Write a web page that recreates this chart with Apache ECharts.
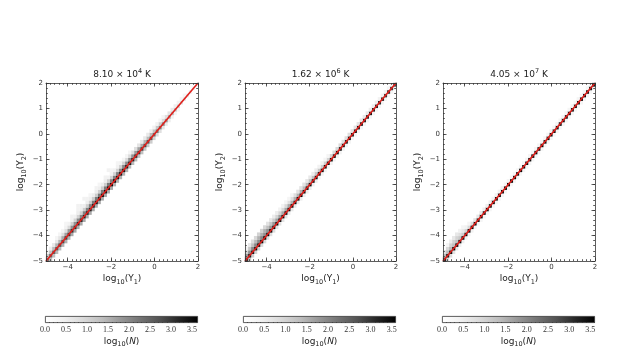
<!DOCTYPE html>
<html><head><meta charset="utf-8">
<script src="https://cdn.jsdelivr.net/npm/echarts@6/dist/echarts.min.js"></script>
<style>html,body{margin:0;padding:0;background:#fff}#c{width:641px;height:359px}</style>
</head><body><div id="c"></div>
<script>
// ---- data ----
const panelTitles = ['8.10 \u00d7 10{sup|4} K', '1.62 \u00d7 10{sup|6} K', '4.05 \u00d7 10{sup|7} K'];
const axisMin = -5, axisMax = 2;
const xMajorTicks = [-4, -2, 0, 2];
const cbMax = [3.64, 3.60, 3.61];
const lineX = [-5, 2];
const lineY = [-5, 2];
// hexbin column centres (log10 Y1)
const xCenters = [-4.93,-4.79,-4.65,-4.51,-4.37,-4.23,-4.09,-3.95,-3.81,-3.67,
  -3.53,-3.39,-3.25,-3.11,-2.97,-2.83,-2.69,-2.55,-2.41,-2.27,
  -2.13,-1.99,-1.85,-1.71,-1.57,-1.43,-1.29,-1.15,-1.01,-0.87,
  -0.73,-0.59,-0.45,-0.31,-0.17,-0.03,0.11,0.25,0.39,0.53,
  0.67,0.81,0.95,1.09,1.23,1.37,1.51,1.65,1.79,1.93];
const rowStep = 0.14; // vertical size of one bin row
// log10(N) per row, row offset (in bins) from the diagonal
const p1Offsets = [-1, 0, 1, 2, 3, 4, 5];
const p1Rows = [
  [1.2,1.3,1.3,1.4,1.4, 1.5,1.5,1.5,1.6,1.6, 1.6,1.6,1.6,1.6,1.6, 1.6,1.6,1.6,1.6,1.6, 1.6,1.6,1.5,1.5,1.5, 1.5,1.5,1.4,1.4,1.4, 1.3,1.3,1.2,1.2,1.1, 1.0,0.9,0.8,0.7,0.6, 0.5,0.4,0.3,0.3,0, 0,0,0,0,0],
  [2.2,2.4,2.5,2.6,2.7, 2.8,2.9,3.0,3.1,3.1, 3.2,3.2,3.3,3.3,3.3, 3.4,3.4,3.4,3.5,3.5, 3.5,3.5,3.5,3.4,3.4, 3.4,3.3,3.3,3.2,3.1, 3.0,2.9,2.8,2.7,2.6, 2.4,2.3,2.1,2.0,1.8, 1.6,1.4,1.2,1.0,0.8, 0.6,0.5,0.4,0.3,0.3],
  [1.2,1.3,1.4,1.5,1.5, 1.6,1.7,1.8,1.9,1.9, 2.0,2.0,2.1,2.1,2.1, 2.2,2.2,2.2,2.2,2.2, 2.2,2.1,2.1,2.1,2.0, 2.0,2.0,1.9,1.9,1.8, 1.7,1.6,1.5,1.4,1.4, 1.3,1.2,1.1,0.9,0.8, 0.7,0.6,0.5,0.4,0.3, 0.3,0,0,0,0],
  [0.4,0.5,0.6,0.6,0.7, 0.8,0.8,0.9,1.0,1.0, 1.0,1.0,1.1,1.1,1.1, 1.1,1.1,1.1,1.1,1.1, 1.1,1.0,1.0,1.0,1.0, 1.0,0.9,0.9,0.8,0.8, 0.7,0.6,0.6,0.6,0.5, 0.4,0.4,0.3,0.3,0, 0,0,0,0,0, 0,0,0,0,0],
  [0,0,0,0.3,0.3, 0.3,0.4,0.4,0.4,0.4, 0.5,0.5,0.5,0.5,0.5, 0.5,0.5,0.5,0.5,0.5, 0.4,0.4,0.4,0.4,0.4, 0.3,0.3,0.3,0,0, 0,0,0,0,0, 0,0,0,0,0, 0,0,0,0,0, 0,0,0,0,0],
  [0,0,0,0,0, 0,0.3,0,0.4,0, 0.4,0.5,0,0.4,0.3, 0,0.4,0.3,0,0.4, 0,0.3,0,0.3,0, 0,0,0,0,0, 0,0,0,0,0, 0,0,0,0,0, 0,0,0,0,0, 0,0,0,0,0],
  [0,0,0,0,0, 0,0,0,0,0, 0.4,0,0.4,0,0, 0,0,0,0,0, 0.4,0,0,0,0, 0,0,0,0,0, 0,0,0,0,0, 0,0,0,0,0, 0,0,0,0,0, 0,0,0,0,0]
];
const p2Offsets = [-1, 0, 1, 2, 3];
const p2Rows = [
  [1.2,1.2,1.1,1.0,1.0, 0.9,0.9,0.8,0.8,0.8, 0.7,0.7,0.7,0.7,0.6, 0.6,0.6,0.6,0.5,0.5, 0.5,0.5,0.5,0.5,0.4, 0.4,0.4,0.4,0.4,0.4, 0.4,0.4,0.4,0.4,0.4, 0.3,0.3,0.3,0.3,0.3, 0.3,0.3,0.3,0.3,0.3, 0.3,0.3,0.3,0.3,0.3],
  [3.0,3.2,3.3,3.4,3.4, 3.5,3.5,3.5,3.5,3.5, 3.5,3.5,3.5,3.5,3.5, 3.5,3.5,3.5,3.5,3.5, 3.5,3.5,3.5,3.5,3.5, 3.5,3.5,3.5,3.5,3.5, 3.5,3.5,3.4,3.4,3.4, 3.4,3.4,3.4,3.3,3.3, 3.3,3.3,3.2,3.2,3.1, 3.1,3.0,3.0,2.9,2.8],
  [1.8,1.9,2.0,2.0,2.0, 2.0,1.9,1.9,1.8,1.8, 1.7,1.7,1.6,1.6,1.6, 1.5,1.5,1.5,1.5,1.4, 1.4,1.3,1.3,1.2,1.2, 1.1,1.1,1.0,1.0,0.9, 0.9,0.9,0.8,0.8,0.8, 0.7,0.7,0.7,0.6,0.6, 0.6,0.5,0.5,0.5,0.4, 0.4,0.4,0.3,0.3,0.3],
  [1.0,1.2,1.3,1.4,1.5, 1.5,1.5,1.3,1.2,1.1, 1.0,1.0,0.9,0.9,0.8, 0.8,0.8,0.7,0.7,0.7, 0.6,0.6,0.5,0.5,0.4, 0.4,0.3,0.3,0,0, 0,0,0,0,0, 0,0,0,0,0, 0,0,0,0,0, 0,0,0,0,0],
  [0.4,0.6,0.8,0.9,1.0, 1.0,0.9,0.7,0.6,0.5, 0.5,0.4,0.4,0.3,0.3, 0.3,0,0,0,0, 0,0,0,0,0, 0,0,0,0,0, 0,0,0,0,0, 0,0,0,0,0, 0,0,0,0,0, 0,0,0,0,0]
];
const p3Offsets = [-1, 0, 1, 2, 3];
const p3Rows = [
  [1.0,0.9,0.8,0.7,0.6, 0.5,0.5,0.4,0.4,0.4, 0.3,0.3,0.3,0.3,0.3, 0.3,0.3,0.3,0.3,0.3, 0.3,0.3,0.3,0.3,0.3, 0.3,0.3,0.3,0.3,0.3, 0.3,0.3,0.3,0.3,0.3, 0.3,0.3,0.3,0.3,0.3, 0.3,0.3,0.3,0.3,0.3, 0.3,0.3,0.3,0.3,0.3],
  [3.2,3.3,3.4,3.5,3.5, 3.5,3.5,3.5,3.5,3.5, 3.5,3.5,3.5,3.5,3.5, 3.5,3.5,3.5,3.5,3.5, 3.5,3.5,3.5,3.5,3.5, 3.5,3.5,3.5,3.5,3.5, 3.5,3.5,3.5,3.5,3.5, 3.5,3.5,3.5,3.5,3.5, 3.5,3.4,3.4,3.4,3.4, 3.4,3.4,3.3,3.3,3.3],
  [1.4,1.4,1.4,1.3,1.3, 1.2,1.1,1.0,0.9,0.8, 0.7,0.6,0.6,0.5,0.5, 0.5,0.4,0.4,0.4,0.4, 0.3,0.3,0.3,0.3,0.3, 0.3,0.3,0.3,0.3,0.3, 0.3,0.3,0.3,0.3,0.3, 0.3,0.3,0.3,0.3,0.3, 0.3,0.3,0.3,0.3,0.3, 0.3,0.3,0.3,0.3,0.3],
  [0.8,0.9,1.0,1.0,1.0, 0.8,0.6,0.4,0.3,0, 0,0,0,0,0, 0,0,0,0,0, 0,0,0,0,0, 0,0,0,0,0, 0,0,0,0,0, 0,0,0,0,0, 0,0,0,0,0, 0,0,0,0,0],
  [0,0.3,0.5,0.6,0.6, 0.4,0.3,0,0,0, 0,0,0,0,0, 0,0,0,0,0, 0,0,0,0,0, 0,0,0,0,0, 0,0,0,0,0, 0,0,0,0,0, 0,0,0,0,0, 0,0,0,0,0]
];
const panelOffsets = [p1Offsets, p2Offsets, p3Offsets];
const panelRows = [p1Rows, p2Rows, p3Rows];

// ---- style ----
const greys = ['#ffffff','#f0f0f0','#d9d9d9','#bdbdbd','#969696','#737373','#525252','#252525','#000000'];
const ink = '#333';
const sansFont = 'DejaVu Sans';
const panelGrids = [
  {left: 46, top: 83, width: 152, height: 178},
  {left: 245, top: 83, width: 151, height: 178},
  {left: 443, top: 83, width: 152, height: 178}
];
const cbGrids = [
  {left: 45, top: 316, width: 153, height: 7},
  {left: 243, top: 316, width: 153, height: 7},
  {left: 442, top: 316, width: 153, height: 7}
];
const fmt = v => (v < 0 ? '\u2212' + Math.abs(v) : String(v));
const nameStyle = {fontFamily: sansFont, fontSize: 9, color: '#222', lineHeight: 13,
  rich: {sub: {fontFamily: sansFont, fontSize: 6.5, lineHeight: 7, verticalAlign: 'bottom', color: '#222'},
         sup: {fontFamily: sansFont, fontSize: 6.5, lineHeight: 7, verticalAlign: 'top', color: '#222'},
         it: {fontFamily: sansFont, fontSize: 9, fontStyle: 'italic', color: '#222'}}};
const lineSt = {color: ink, width: 0.8};

const grids = [], xAxes = [], yAxes = [], series = [], visualMaps = [];
panelGrids.forEach(g => grids.push(Object.assign({containLabel: false}, g)));
cbGrids.forEach(g => grids.push(Object.assign({containLabel: false}, g)));

function ax(extra) {
  return Object.assign({type: 'value', min: axisMin, max: axisMax, splitLine: {show: false}, z: 10,
    axisLine: {show: false, onZero: false}, axisLabel: {show: false}}, extra);
}

for (let p = 0; p < 3; p++) {
  // x axes: bottom major, bottom minor, top major, top minor
  xAxes.push(ax({gridIndex: p, position: 'bottom',
    axisLine: {show: true, onZero: false, lineStyle: lineSt},
    axisTick: {inside: true, length: 3.5, customValues: xMajorTicks, lineStyle: lineSt},
    axisLabel: {show: true, customValues: xMajorTicks, formatter: fmt, fontFamily: sansFont, fontSize: 7, color: ink, margin: 3},
    name: 'log{sub|10}(Y{sub|1})', nameLocation: 'middle', nameGap: 11.5, nameTextStyle: nameStyle}));
  xAxes.push(ax({gridIndex: p, position: 'bottom', interval: 0.2,
    axisTick: {inside: true, length: 1.8, lineStyle: lineSt}}));
  xAxes.push(ax({gridIndex: p, position: 'top',
    axisLine: {show: true, onZero: false, lineStyle: lineSt},
    axisTick: {inside: true, length: 3.5, customValues: xMajorTicks, lineStyle: lineSt},
    name: panelTitles[p], nameLocation: 'middle', nameGap: 2, nameTextStyle: nameStyle}));
  xAxes.push(ax({gridIndex: p, position: 'top', interval: 0.2,
    axisTick: {inside: true, length: 1.8, lineStyle: lineSt}}));
  // y axes: left major, left minor, right major, right minor
  yAxes.push(ax({gridIndex: p, position: 'left', interval: 1,
    axisLine: {show: true, onZero: false, lineStyle: lineSt},
    axisTick: {inside: true, length: 3.5, lineStyle: lineSt},
    axisLabel: {show: true, formatter: fmt, fontFamily: sansFont, fontSize: 7, color: ink, margin: 3},
    name: 'log{sub|10}(Y{sub|2})', nameLocation: 'middle', nameGap: 18.5, nameRotate: 90, nameTextStyle: nameStyle}));
  yAxes.push(ax({gridIndex: p, position: 'left', interval: 0.2,
    axisTick: {inside: true, length: 1.8, lineStyle: lineSt}}));
  yAxes.push(ax({gridIndex: p, position: 'right', interval: 1,
    axisLine: {show: true, onZero: false, lineStyle: lineSt},
    axisTick: {inside: true, length: 3.5, lineStyle: lineSt}}));
  yAxes.push(ax({gridIndex: p, position: 'right', interval: 0.2,
    axisTick: {inside: true, length: 1.8, lineStyle: lineSt}}));

  // hexbin cells
  const cells = [];
  panelRows[p].forEach((row, r) => {
    const off = panelOffsets[p][r] * rowStep;
    row.forEach((v, i) => { if (v > 0) cells.push([xCenters[i], xCenters[i] + off, v]); });
  });
  visualMaps.push({type: 'continuous', show: false, min: 0, max: cbMax[p], dimension: 2,
    seriesIndex: series.length, inRange: {color: greys}});
  series.push({type: 'scatter', xAxisIndex: 4 * p, yAxisIndex: 4 * p, data: cells,
    symbol: 'rect', symbolSize: [3.3, 3.8], clip: true, z: 2, silent: true,
    itemStyle: {opacity: 1}});
  series.push({type: 'line', xAxisIndex: 4 * p, yAxisIndex: 4 * p,
    data: lineX.map((x, i) => [x, lineY[i]]), symbol: 'none', z: 5, silent: true,
    lineStyle: {color: '#e0201c', width: 1.6}});
}

// colour bars
for (let p = 0; p < 3; p++) {
  const gi = 3 + p;
  xAxes.push({type: 'value', gridIndex: gi, min: 0, max: cbMax[p], interval: 0.5, position: 'bottom', z: 10,
    splitLine: {show: false},
    axisLine: {show: false, onZero: false},
    axisTick: {inside: true, length: 2, lineStyle: lineSt},
    minorTick: {show: true, splitNumber: 5, length: 1, lineStyle: {color: ink, width: 0.6}},
    axisLabel: {formatter: v => v.toFixed(1), showMaxLabel: false, fontFamily: 'Liberation Serif', fontSize: 8, color: ink, margin: 3},
    name: 'log{sub|10}({it|N})', nameLocation: 'middle', nameGap: 9.5, nameTextStyle: nameStyle});
  yAxes.push({type: 'category', gridIndex: gi, data: ['cb'], show: false});
  series.push({type: 'bar', xAxisIndex: 12 + p, yAxisIndex: 12 + p, data: [cbMax[p]], barWidth: '100%', silent: true, z: 2,
    itemStyle: {borderColor: ink, borderWidth: 0.8,
      color: {type: 'linear', x: 0, y: 0, x2: 1, y2: 0,
        colorStops: greys.map((c, i) => ({offset: i / (greys.length - 1), color: c}))}}});
}

const chart = echarts.init(document.getElementById('c'), null, {renderer: 'canvas'});
chart.setOption({
  animation: false,
  backgroundColor: '#fff',
  grid: grids, xAxis: xAxes, yAxis: yAxes, visualMap: visualMaps, series: series
});
</script></body></html>
